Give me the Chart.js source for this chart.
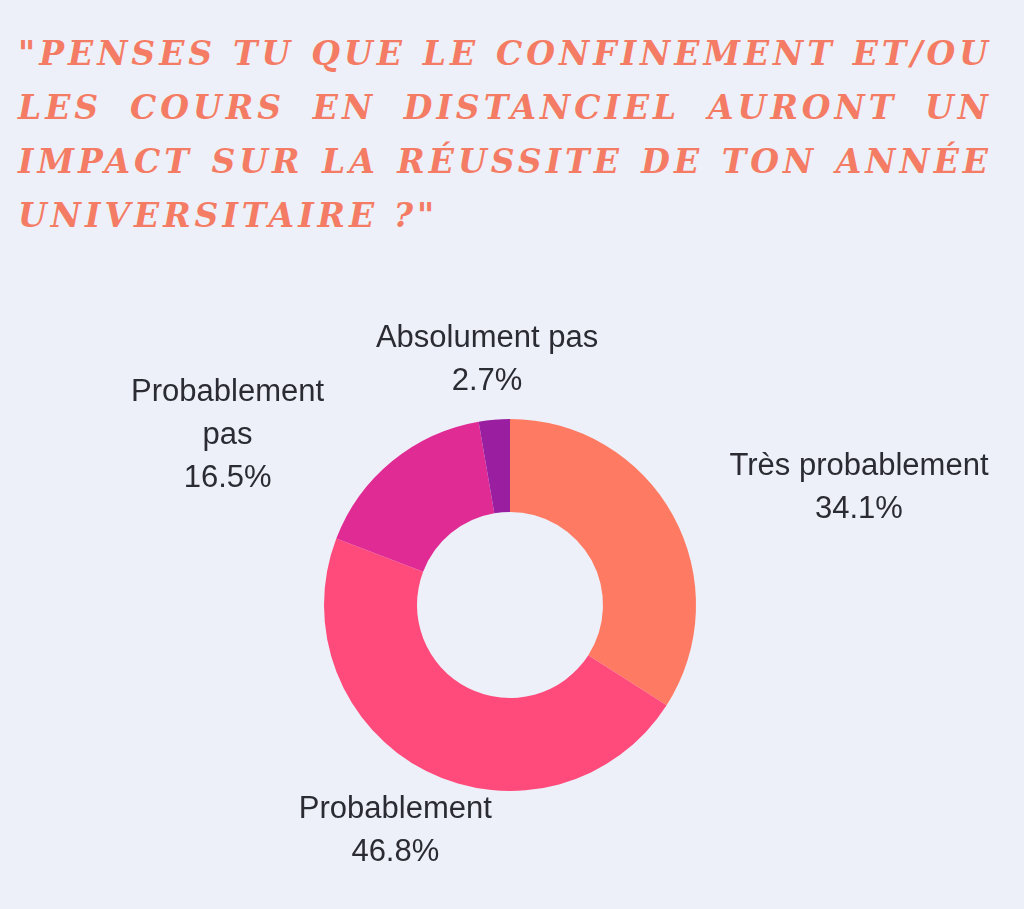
<!DOCTYPE html>
<html>
<head>
<meta charset="utf-8">
<script src="https://cdn.jsdelivr.net/npm/chart.js@4"></script>
<style>
  html, body { margin: 0; padding: 0; background: #eef0f9; }
  #page { position: relative; width: 1024px; height: 909px; overflow: hidden; }
  #title {
    position: absolute; left: 18px; top: 27px; width: 974px;
    font-family: "DejaVu Serif", "Liberation Serif", serif;
    font-style: italic; font-weight: bold;
    font-size: 33px; letter-spacing: 4px; color: #f47c64;
    line-height: 54px;
  }
  #title div { text-align: justify; text-align-last: justify; white-space: nowrap; }
  #title div.last { text-align-last: left; }
  #wrap { position: absolute; left: 0; top: 0; width: 1024px; height: 909px; }
</style>
</head>
<body>
<div id="page">
  <div id="title">
    <div>"PENSES TU QUE LE CONFINEMENT ET/OU</div>
    <div>LES COURS EN DISTANCIEL AURONT UN</div>
    <div>IMPACT SUR LA RÉUSSITE DE TON ANNÉE</div>
    <div class="last">UNIVERSITAIRE ?"</div>
  </div>
  <div id="wrap"><canvas id="chart"></canvas></div>
</div>
<script>
// answers
const labels = ['Très probablement', 'Probablement', 'Probablement pas', 'Absolument pas'];
const labelLines = [['Très probablement'], ['Probablement'], ['Probablement', 'pas'], ['Absolument pas']];
const values = [34.1, 46.8, 16.5, 2.7];
const colors = ['#ff7a62', '#ff4b7b', '#e02b94', '#9a1fa0'];

// draws "label + percent" outside each slice
const outsideLabels = {
    id: 'outsideLabels',
    afterDraw(chart, args, opts) {
        const ctx = chart.ctx;
        const meta = chart.getDatasetMeta(0);
        ctx.save();
        ctx.font = opts.font;
        ctx.fillStyle = opts.color;
        ctx.textBaseline = 'middle';
        ctx.textAlign = 'center';
        meta.data.forEach((arc, i) => {
            const mid = (arc.startAngle + arc.endAngle) / 2;
            const r = arc.outerRadius + opts.gap;
            const ax = arc.x + Math.cos(mid) * r;
            const ay = arc.y + Math.sin(mid) * r;
            const lines = labelLines[i].concat([values[i].toFixed(1) + '%']);
            let w = 0;
            lines.forEach(l => { w = Math.max(w, ctx.measureText(l).width); });
            const h = lines.length * opts.lineHeight;
            const c = Math.cos(mid), s = Math.sin(mid);
            let cx = ax, top = ay - h / 2;
            if (c > 0.3) cx = ax + w / 2;
            else if (c < -0.3) cx = ax - w / 2;
            if (s > 0.3) top = ay;
            else if (s < -0.3) top = ay - h;
            const nudge = opts.nudge[i] || [0, 0];
            cx += nudge[0];
            top += nudge[1];
            lines.forEach((l, k) => {
                ctx.fillText(l, cx, top + opts.lineHeight * (k + 0.5));
            });
        });
        ctx.restore();
    }
};

new Chart(document.getElementById('chart'), {
    type: 'doughnut',
    data: {
        labels: labels,
        datasets: [{
            data: values,
            backgroundColor: colors,
            borderWidth: 0
        }]
    },
    options: {
        responsive: true,
        maintainAspectRatio: false,
        animation: false,
        cutout: '50%',
        layout: { padding: { left: 324, right: 328, top: 419, bottom: 118 } },
        plugins: {
            legend: { display: false },
            tooltip: { enabled: false },
            outsideLabels: {
                font: '31px "Liberation Sans", Arial, sans-serif',
                color: '#2b2b33',
                lineHeight: 43,
                gap: 14,
                nudge: [[44, 22], [72, 4], [-59, 50], [-6, -3]]
            }
        }
    },
    plugins: [outsideLabels]
});
</script>
</body>
</html>
